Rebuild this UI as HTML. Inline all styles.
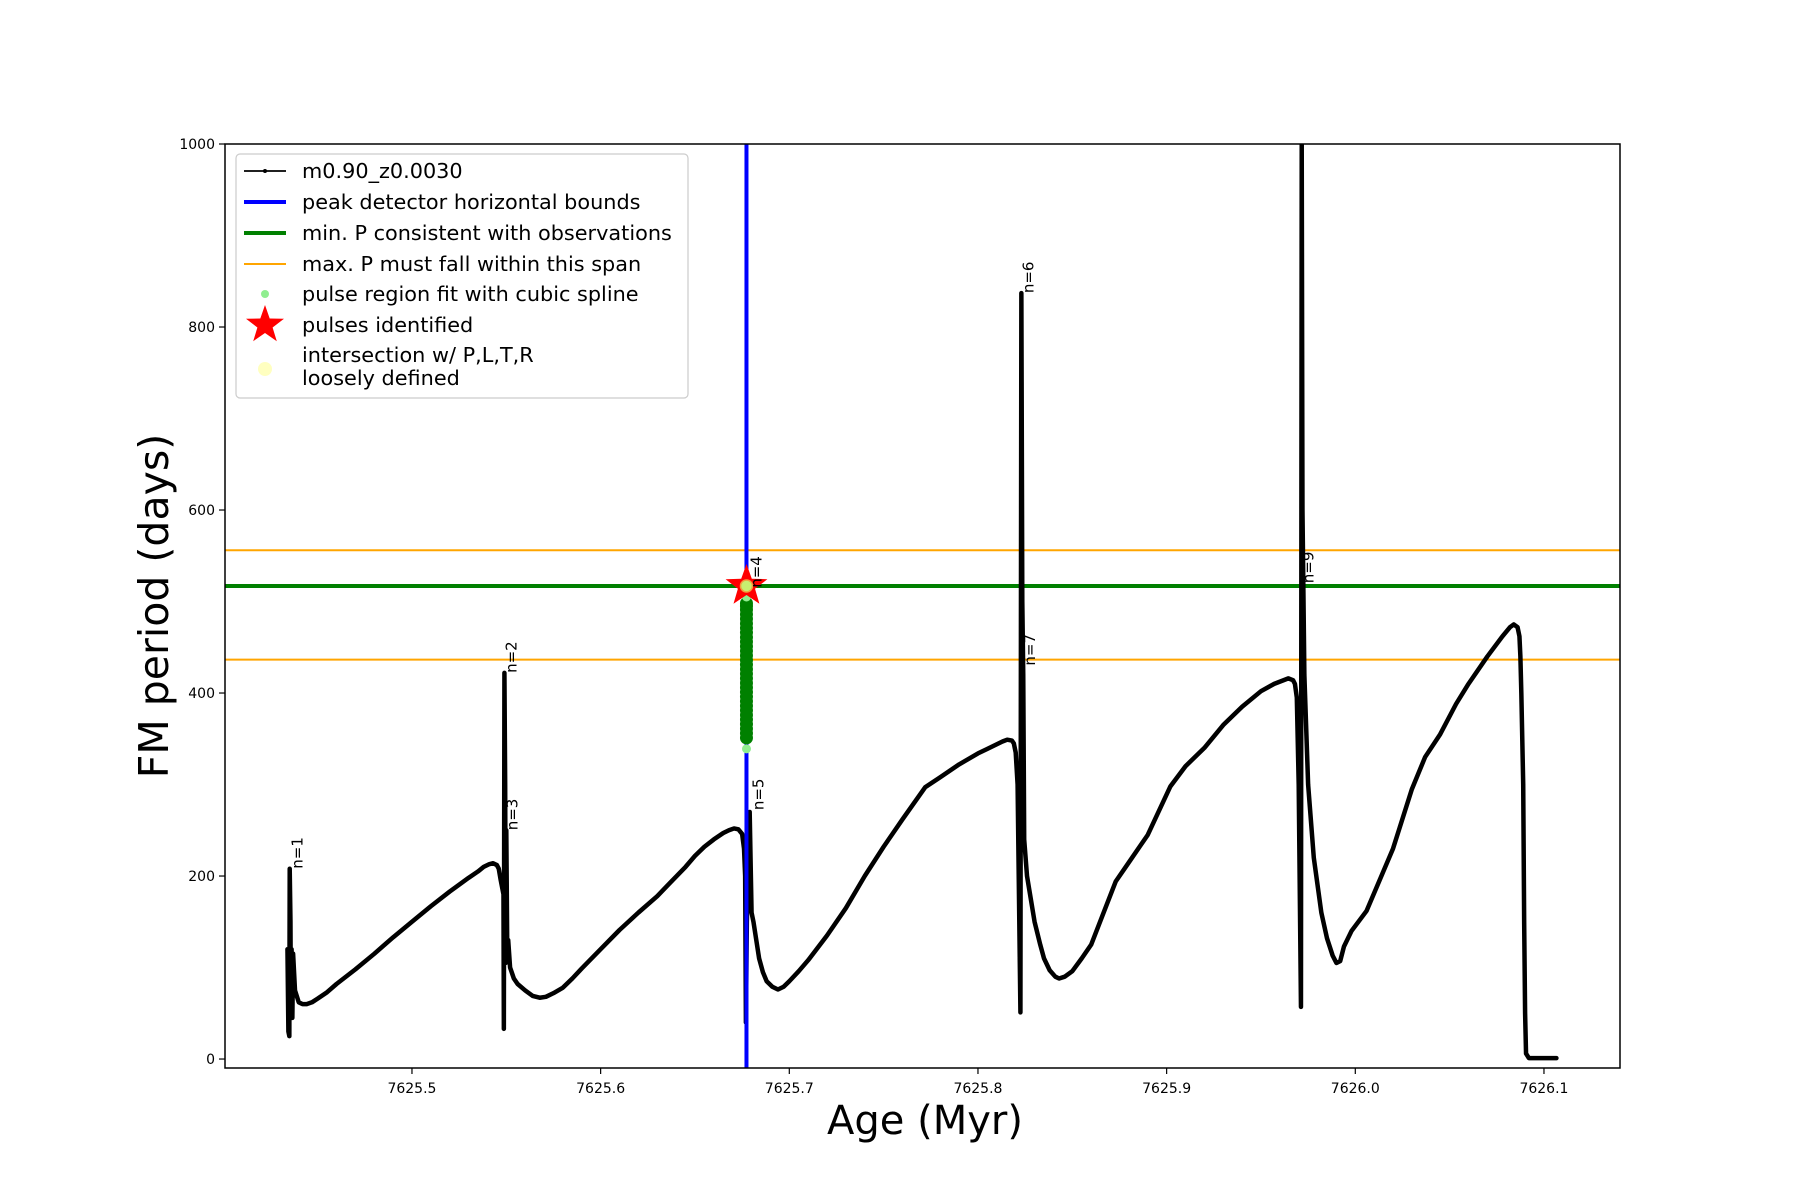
<!DOCTYPE html>
<html><head><meta charset="utf-8">
<style>
html,body{margin:0;padding:0;background:#fff;}
svg{display:block;font-family:"DejaVu Sans","Liberation Sans",sans-serif;}
</style></head>
<body>
<svg id="chart" width="1800" height="1200" viewBox="0 0 1800 1200" xmlns="http://www.w3.org/2000/svg">
<rect width="1800" height="1200" fill="#fff"/>
<defs><clipPath id="plotclip"><rect x="225" y="144" width="1395" height="924"/></clipPath></defs>
<g id="plot" clip-path="url(#plotclip)"></g>
<g id="axes"></g>
<g id="legend"></g>
</svg>
<script>
const ages = [7625.4340,7625.4345,7625.4350,7625.4352,7625.4356,7625.4358,7625.4362,7625.4366,7625.4370,7625.4380,7625.4400,7625.4420,7625.4442,7625.447,7625.450,7625.455,7625.46,7625.47,7625.48,7625.49,7625.50,7625.51,7625.52,7625.53,7625.535,7625.538,7625.541,7625.543,7625.545,7625.546,7625.547,7625.5485,7625.5487,7625.5490,7625.5494,7625.5497,7625.5500,7625.5505,7625.5510,7625.5520,7625.5540,7625.5560,7625.5600,7625.5640,7625.5677,7625.571,7625.575,7625.580,7625.585,7625.59,7625.60,7625.61,7625.62,7625.63,7625.637,7625.645,7625.65,7625.655,7625.66,7625.665,7625.668,7625.6707,7625.673,7625.675,7625.6760,7625.6766,7625.6770,7625.6775,7625.6790,7625.6800,7625.6810,7625.6825,7625.684,7625.686,7625.688,7625.691,7625.694,7625.697,7625.70,7625.705,7625.71,7625.72,7625.73,7625.74,7625.75,7625.76,7625.772,7625.78,7625.79,7625.80,7625.805,7625.81,7625.813,7625.8155,7625.818,7625.819,7625.820,7625.821,7625.8225,7625.8230,7625.8235,7625.8240,7625.8245,7625.826,7625.828,7625.830,7625.833,7625.835,7625.838,7625.841,7625.843,7625.846,7625.85,7625.855,7625.86,7625.873,7625.88,7625.89,7625.902,7625.91,7625.92,7625.93,7625.94,7625.95,7625.957,7625.9645,7625.9670,7625.968,7625.969,7625.970,7625.9712,7625.9716,7625.972,7625.973,7625.975,7625.978,7625.980,7625.982,7625.985,7625.988,7625.990,7625.992,7625.994,7625.998,7626.006,7626.02,7626.03,7626.037,7626.045,7626.0534,7626.06,7626.07,7626.078,7626.082,7626.084,7626.086,7626.087,7626.0875,7626.088,7626.089,7626.0895,7626.0900,7626.0905,7626.092,7626.1066];
const periods = [120,30,25,208,150,60,120,45,115,75,62,60,60,62,66,73,82,98,115,133,150,167,183,198,205,210,213,214,212,208,196,180,33,422,300,105,250,120,130,100,88,82,75,69,67,68,72,78,88,99,120,141,160,178,193,210,222,232,240,247,250,252,251,246,230,200,40,150,270,160,150,130,110,95,85,79,76,79,85,96,108,135,165,200,232,262,297,308,322,334,339,344,347,349,348,345,335,300,51,837,500,420,240,200,175,150,125,110,97,90,88,90,96,110,125,194,215,245,298,320,340,365,385,402,410,416,414,410,395,300,57,1000,600,420,300,220,190,160,132,113,105,107,123,140,162,230,295,330,355,388,410,440,462,472,475,472,462,440,400,300,150,50,6,1,1];
const pulseAges = [7625.6773,7625.6773,7625.6773,7625.6773,7625.6773,7625.6773,7625.6773,7625.6773,7625.6773,7625.6773,7625.6773,7625.6773,7625.6773,7625.6773,7625.6773,7625.6773,7625.6773,7625.6773,7625.6773,7625.6773,7625.6773,7625.6773,7625.6773,7625.6773,7625.6773,7625.6773,7625.6773,7625.6773,7625.6773,7625.6773,7625.6773];
const pulsePeriods = [351,356,361,366,371,376,381,386,391,396,401,406,411,416,421,426,431,436,441,446,451,456,461,466,471,476,481,486,491,495,498];
const splineAges = [7625.6773,7625.6773];
const splinePeriods = [339,505];
const starAge = [7625.6773];
const starPeriod = [517];
const minP = [517];
const maxPBounds = [436.5,556];
const peakBoundAges = [7625.6773];
const xTicks = [7625.5,7625.6,7625.7,7625.8,7625.9,7626.0,7626.1];
const xTickLabels = ["7625.5","7625.6","7625.7","7625.8","7625.9","7626.0","7626.1"];
const yTicks = [0,200,400,600,800,1000];
const yTickLabels = ["0","200","400","600","800","1000"];
const nLabels = ["n=1","n=2","n=3","n=4","n=5","n=6","n=7","n=9"];
const nAges = [7625.4356,7625.5490,7625.5497,7625.6790,7625.6800,7625.8230,7625.8240,7625.9716];
const nPeriods = [208,422,250,515,272,837,430,520];

const X0=225,X1=1620,Y0=144,Y1=1068;
const xmin=7625.4009,xmax=7626.1403,ymin=-9.8,ymax=1000;
function sx(v){return X0+(v-xmin)/(xmax-xmin)*(X1-X0);}
function sy(v){return Y1-(v-ymin)/(ymax-ymin)*(Y1-Y0);}
const NS="http://www.w3.org/2000/svg";
function mk(tag,attrs,parent){const e=document.createElementNS(NS,tag);for(const k in attrs)e.setAttribute(k,attrs[k]);parent.appendChild(e);return e;}
const plot=document.getElementById('plot'),axes=document.getElementById('axes'),leg=document.getElementById('legend');

maxPBounds.forEach((v,i)=>{const l=mk('line',{x1:X0,x2:X1,y1:sy(v),y2:sy(v),stroke:'#ffa500','stroke-width':2},plot);

});
minP.forEach(v=>{const l=mk('line',{x1:X0,x2:X1,y1:sy(v),y2:sy(v),stroke:'#008000','stroke-width':4},plot);

});
let d='';ages.forEach((a,i)=>{d+=(i?'L':'M')+sx(a).toFixed(2)+','+sy(periods[i]).toFixed(2);});
const ser=mk('path',{d:d,fill:'none',stroke:'#000','stroke-width':4.5,'stroke-linejoin':'round','stroke-linecap':'round'},plot);


peakBoundAges.forEach(a=>{const l=mk('line',{x1:sx(a),x2:sx(a),y1:Y0,y2:Y1,stroke:'#0000ff','stroke-width':4},plot);

});
pulseAges.forEach((a,i)=>{const c=mk('circle',{cx:sx(a),cy:sy(pulsePeriods[i]),r:6.5,fill:'#008000'},plot);

});
splineAges.forEach((a,i)=>{const c=mk('circle',{cx:sx(a),cy:sy(splinePeriods[i]),r:4.5,fill:'#90ee90'},plot);

});
function starPts(cx,cy,R,r){let p=[];for(let k=0;k<10;k++){const ang=-Math.PI/2+k*Math.PI/5;const rr=k%2?r:R;p.push((cx+rr*Math.cos(ang)).toFixed(1)+','+(cy+rr*Math.sin(ang)).toFixed(1));}return p.join(' ');}
starAge.forEach((a,i)=>{const s=mk('polygon',{points:starPts(sx(a),sy(starPeriod[i]),22,9),fill:'#ff0000'},plot);


const c=mk('circle',{cx:sx(a),cy:sy(starPeriod[i]),r:6,fill:'#c8f070',stroke:'#f0a040','stroke-width':1.5},plot);

});
nLabels.forEach((t,i)=>{const x=sx(nAges[i])+12,y=sy(nPeriods[i]);const e=mk('text',{x:x,y:y,transform:`rotate(-90 ${x} ${y})`,'font-size':15,fill:'#000'},plot);e.textContent=t;

});

const fr=mk('rect',{x:X0,y:Y0,width:X1-X0,height:Y1-Y0,fill:'none',stroke:'#000','stroke-width':1.5},axes);


xTicks.forEach((v,i)=>{const x=sx(v);mk('line',{x1:x,x2:x,y1:Y1,y2:Y1+6,stroke:'#000','stroke-width':1.2},axes);
const t=mk('text',{x:x,y:Y1+25,'text-anchor':'middle','font-size':14},axes);t.textContent=xTickLabels[i];

});
yTicks.forEach((v,i)=>{const y=sy(v);mk('line',{x1:X0-6,x2:X0,y1:y,y2:y,stroke:'#000','stroke-width':1.2},axes);
const t=mk('text',{x:X0-10,y:y+5,'text-anchor':'end','font-size':14},axes);t.textContent=yTickLabels[i];

});
const xl=mk('text',{x:925,y:1134,'text-anchor':'middle','font-size':40},axes);xl.textContent='Age (Myr)';


const yl=mk('text',{x:168,y:606,'text-anchor':'middle','font-size':41,transform:'rotate(-90 168 606)'},axes);yl.textContent='FM period (days)';



mk('rect',{x:236,y:154,width:452,height:244,rx:4,fill:'#fff','fill-opacity':0.8,stroke:'#ccc','stroke-width':1.2},leg);
const rows=[
 {t:'m0.90_z0.0030',y:171,k:'line',c:'#000',w:1.8,dot:true},
 {t:'peak detector horizontal bounds',y:202,k:'line',c:'#0000ff',w:4},
 {t:'min. P consistent with observations',y:233,k:'line',c:'#008000',w:4},
 {t:'max. P must fall within this span',y:264,k:'line',c:'#ffa500',w:2},
 {t:'pulse region fit with cubic spline',y:294,k:'dot',c:'#90ee90',r:4},
 {t:'pulses identified',y:325,k:'star'},
 {t:'intersection w/ P,L,T,R',t2:'loosely defined',y:355,k:'dot',c:'#ffffc0',r:7,cy:369}
];
rows.forEach(r=>{
 const g=mk('g',{},leg);
 
 
 if(r.k==='line'){mk('line',{x1:244,x2:286,y1:r.y,y2:r.y,stroke:r.c,'stroke-width':r.w},g);if(r.dot)mk('circle',{cx:265,cy:r.y,r:2,fill:'#000'},g);}
 else if(r.k==='dot'){mk('circle',{cx:265,cy:r.cy||r.y,r:r.r,fill:r.c},g);}
 else {mk('polygon',{points:starPts(265,r.y,20,8),fill:'#ff0000'},g);}
 const t=mk('text',{x:302,y:r.y+7,'font-size':20.8},g);t.textContent=r.t;
 if(r.t2){const t2=mk('text',{x:302,y:r.y+30,'font-size':20.8},g);t2.textContent=r.t2;}
});
</script>
</body></html>
